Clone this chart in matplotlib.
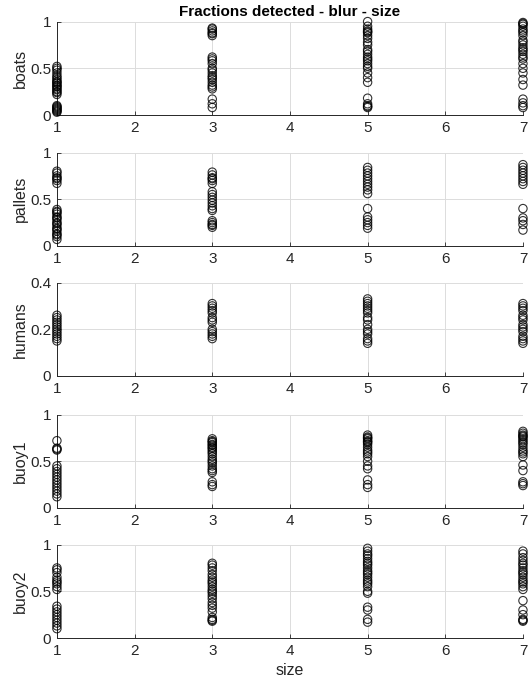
import numpy as np
import matplotlib
matplotlib.use('Agg')
import matplotlib.pyplot as plt

plt.rcParams['font.family'] = ['Liberation Sans', 'DejaVu Sans']

sizes = [1, 3, 5, 7]
nomes = ['boats', 'pallets', 'humans', 'buoy1', 'buoy2']
ylims = [1, 1, 0.4, 1, 1]

# fractions detected per size (one list per size value)
boats = [
    [0.03, 0.04, 0.05, 0.06, 0.07, 0.08, 0.09, 0.1, 0.22, 0.24, 0.25, 0.27, 0.28, 0.3, 0.31, 0.32, 0.34, 0.35, 0.36, 0.38, 0.4, 0.42, 0.45, 0.48, 0.5, 0.52],
    [0.08, 0.12, 0.17, 0.28, 0.3, 0.32, 0.35, 0.38, 0.4, 0.42, 0.45, 0.48, 0.5, 0.55, 0.58, 0.6, 0.62, 0.85, 0.87, 0.88, 0.9, 0.92, 0.93],
    [0.08, 0.09, 0.1, 0.12, 0.18, 0.35, 0.4, 0.45, 0.5, 0.52, 0.55, 0.58, 0.6, 0.62, 0.65, 0.68, 0.7, 0.75, 0.78, 0.82, 0.85, 0.88, 0.89, 0.9, 0.92, 0.95, 1.0],
    [0.08, 0.1, 0.13, 0.17, 0.32, 0.38, 0.45, 0.5, 0.55, 0.6, 0.62, 0.65, 0.68, 0.7, 0.72, 0.75, 0.78, 0.8, 0.85, 0.88, 0.9, 0.92, 0.95, 0.97, 0.98, 0.99],
]
pallets = [
    [0.07, 0.1, 0.12, 0.13, 0.16, 0.18, 0.19, 0.22, 0.24, 0.25, 0.28, 0.3, 0.31, 0.34, 0.36, 0.37, 0.39, 0.67, 0.7, 0.72, 0.73, 0.75, 0.78, 0.8],
    [0.2, 0.22, 0.23, 0.25, 0.27, 0.38, 0.4, 0.43, 0.46, 0.49, 0.52, 0.55, 0.58, 0.67, 0.7, 0.72, 0.73, 0.76, 0.79],
    [0.19, 0.22, 0.25, 0.28, 0.31, 0.4, 0.56, 0.6, 0.63, 0.66, 0.69, 0.72, 0.75, 0.78, 0.81, 0.84],
    [0.17, 0.23, 0.27, 0.3, 0.4, 0.66, 0.69, 0.72, 0.75, 0.78, 0.81, 0.84, 0.87],
]
humans = [
    [0.15, 0.16, 0.17, 0.18, 0.19, 0.2, 0.21, 0.22, 0.23, 0.24, 0.25, 0.26],
    [0.16, 0.17, 0.18, 0.19, 0.2, 0.23, 0.24, 0.25, 0.27, 0.28, 0.29, 0.3, 0.31],
    [0.14, 0.15, 0.16, 0.18, 0.19, 0.2, 0.22, 0.24, 0.25, 0.27, 0.28, 0.29, 0.3, 0.31, 0.32, 0.33],
    [0.14, 0.15, 0.16, 0.17, 0.19, 0.2, 0.21, 0.22, 0.24, 0.25, 0.26, 0.28, 0.29, 0.3, 0.31],
]
buoy1 = [
    [0.12, 0.15, 0.18, 0.21, 0.24, 0.27, 0.3, 0.33, 0.36, 0.39, 0.42, 0.45, 0.62, 0.63, 0.64, 0.72],
    [0.23, 0.25, 0.28, 0.38, 0.4, 0.42, 0.45, 0.48, 0.5, 0.52, 0.55, 0.58, 0.6, 0.62, 0.64, 0.65, 0.67, 0.68, 0.7, 0.71, 0.72, 0.74],
    [0.22, 0.25, 0.3, 0.42, 0.45, 0.5, 0.55, 0.58, 0.6, 0.62, 0.65, 0.68, 0.7, 0.71, 0.72, 0.74, 0.75, 0.76, 0.78],
    [0.24, 0.26, 0.28, 0.4, 0.46, 0.55, 0.58, 0.6, 0.62, 0.65, 0.68, 0.7, 0.72, 0.74, 0.76, 0.77, 0.78, 0.8, 0.82],
]
buoy2 = [
    [0.1, 0.13, 0.16, 0.19, 0.22, 0.25, 0.28, 0.31, 0.34, 0.52, 0.55, 0.58, 0.6, 0.62, 0.65, 0.7, 0.73, 0.75],
    [0.18, 0.19, 0.2, 0.22, 0.28, 0.32, 0.35, 0.38, 0.42, 0.45, 0.48, 0.5, 0.52, 0.55, 0.58, 0.6, 0.62, 0.65, 0.68, 0.72, 0.75, 0.78, 0.8],
    [0.17, 0.2, 0.3, 0.33, 0.48, 0.5, 0.55, 0.58, 0.6, 0.62, 0.65, 0.68, 0.7, 0.72, 0.75, 0.78, 0.8, 0.82, 0.85, 0.88, 0.9, 0.93, 0.96],
    [0.18, 0.19, 0.2, 0.25, 0.3, 0.4, 0.52, 0.55, 0.58, 0.6, 0.62, 0.65, 0.68, 0.7, 0.72, 0.75, 0.78, 0.8, 0.83, 0.86, 0.9, 0.93],
]
dados = [boats, pallets, humans, buoy1, buoy2]

cinza = '#262626'
fig = plt.figure(figsize=(5.32, 6.87), dpi=100)

bases = [0.8326, 0.642, 0.4527, 0.2606, 0.0713]
for i in range(len(nomes)):
    ax = fig.add_axes([0.107, bases[i], 0.876, 0.136])
    for j in range(len(sizes)):
        y = dados[i][j]
        ax.scatter([sizes[j]] * len(y), y, s=36, facecolors='none',
                   edgecolors='black', linewidths=0.8, alpha=0.8, zorder=3,
                   clip_on=False)
    ax.set_xlim(1, 7)
    ax.set_ylim(0, ylims[i])
    ax.set_xticks(range(1, 8))
    if ylims[i] == 1:
        ax.set_yticks([0, 0.5, 1])
        ax.set_yticklabels(['0', '0.5', '1'])
    else:
        ax.set_yticks([0, 0.2, 0.4])
        ax.set_yticklabels(['0', '0.2', '0.4'])
    ax.grid(True, color='#dcdcdc', linewidth=0.7)
    ax.set_axisbelow(True)
    ax.spines['top'].set_visible(False)
    ax.spines['right'].set_visible(False)
    ax.spines['left'].set_color(cinza)
    ax.spines['bottom'].set_color(cinza)
    ax.spines['left'].set_linewidth(0.7)
    ax.spines['bottom'].set_linewidth(0.7)
    ax.tick_params(direction='in', length=3, width=0.6, colors=cinza,
                   labelsize=11, pad=4)
    ax.set_ylabel(nomes[i], fontsize=11.5, color=cinza, labelpad=2)
    if i == 0:
        ax.set_title('Fractions detected - blur - size', fontsize=11,
                     fontweight='bold', color='black', pad=4)
    if i == len(nomes) - 1:
        ax.set_xlabel('size', fontsize=11.5, color=cinza, labelpad=4)

plt.savefig('out.png', dpi=100)
